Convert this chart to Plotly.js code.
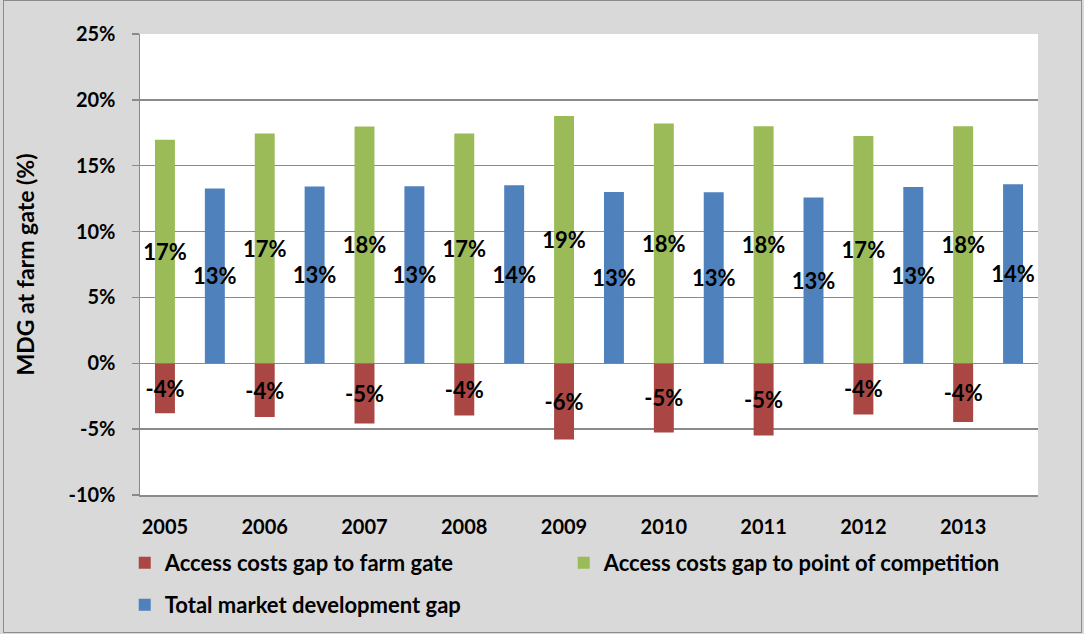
<!DOCTYPE html>
<html>
<head>
<meta charset="utf-8">
<script src="https://cdn.plot.ly/plotly-3.0.1.min.js"></script>
<style>
  html, body { margin: 0; padding: 0; background: #ffffff; }
  #wrap { position: relative; width: 1084px; height: 634px; }
  #chart { width: 1084px; height: 634px; }
  #frame { position: absolute; left: 3px; top: 0px; width: 1077px; height: 631px;
           border: 1.5px solid #8c8c8c; pointer-events: none; }
</style>
</head>
<body>
<div id="wrap">
  <div id="chart"></div>
  <div id="frame"></div>
</div>
<script>
const years = ["2005", "2006", "2007", "2008", "2009", "2010", "2011", "2012", "2013"];
const farmGateGap = [-3.79, -4.07, -4.58, -3.97, -5.79, -5.26, -5.49, -3.89, -4.45];
const competitionGap = [16.98, 17.44, 17.97, 17.44, 18.77, 18.2, 18.0, 17.26, 18.0];
const totalGap = [13.27, 13.42, 13.44, 13.52, 13.01, 12.99, 12.58, 13.39, 13.59];
const seriesNames = ["Access costs gap to farm gate", "Access costs gap to point of competition", "Total market development gap"];
const yTickVals = [-10, -5, 0, 5, 10, 15, 20, 25];
const yTickText = ["-10%", "-5%", "0%", "5%", "10%", "15%", "20%", "25%"];

const FONT = "Lato, 'Liberation Sans', sans-serif";
const FS = 22;
const TFS = 20;
const labelFont = { family: FONT, size: FS, color: "#000000", weight: 700 };

function barTrace(name, vals, color, offset, legendId) {
  return {
    type: "bar",
    name: name,
    x: years,
    y: vals,
    width: 0.2,
    offset: offset,
    marker: { color: color, line: { width: 0 } },
    text: vals.map(v => Math.round(v) + "%"),
    textposition: "inside",
    insidetextanchor: "middle",
    constraintext: "none",
    textangle: 0,
    insidetextfont: labelFont,
    textfont: labelFont,
    cliponaxis: false,
    legend: legendId,
    hoverinfo: "x+y+name"
  };
}

const data = [
  barTrace(seriesNames[0], farmGateGap, "#AA4643", -0.35, "legend"),
  barTrace(seriesNames[1], competitionGap, "#9BBB59", -0.35, "legend"),
  barTrace(seriesNames[2], totalGap, "#4F81BD", 0.15, "legend2")
];

const layout = {
  width: 1084,
  height: 634,
  margin: { l: 140, r: 46, t: 34, b: 139, autoexpand: false },
  paper_bgcolor: "#d9d9d9",
  plot_bgcolor: "#ffffff",
  font: { family: FONT, size: FS, color: "#000000", weight: 700 },
  barmode: "overlay",
  showlegend: true,
  xaxis: {
    type: "category",
    showgrid: false,
    showline: true,
    linecolor: "#8a8a8a",
    linewidth: 1.5,
    ticks: "",
    ticklabelshift: -25,
    ticklabelstandoff: 13,
    tickfont: { family: FONT, size: TFS, color: "#000000", weight: 700 },
    fixedrange: true
  },
  yaxis: {
    range: [-10, 25],
    automargin: true,
    tickmode: "array",
    tickvals: yTickVals,
    ticktext: yTickText,
    showgrid: true,
    gridcolor: "#8a8a8a",
    gridwidth: 1.5,
    zeroline: false,
    showline: true,
    linecolor: "#8a8a8a",
    linewidth: 1.5,
    ticks: "outside",
    ticklen: 7,
    tickwidth: 1.5,
    tickcolor: "#8a8a8a",
    ticklabelstandoff: 12,
    tickfont: { family: FONT, size: TFS, color: "#000000", weight: 700 },
    title: { text: "MDG at farm gate (%)", standoff: 27,
             font: { family: FONT, size: 23, color: "#000000", weight: 700 } },
    fixedrange: true
  },
  legend: {
    orientation: "h",
    x: -0.017, xanchor: "left",
    y: -0.102, yanchor: "top",
    entrywidth: 394,
    entrywidthmode: "pixels",
    bgcolor: "rgba(0,0,0,0)",
    font: { family: FONT, size: FS, color: "#000000", weight: 700 },
    traceorder: "normal"
  },
  legend2: {
    orientation: "h",
    x: -0.017, xanchor: "left",
    y: -0.193, yanchor: "top",
    bgcolor: "rgba(0,0,0,0)",
    font: { family: FONT, size: FS, color: "#000000", weight: 700 }
  }
};

Plotly.newPlot("chart", data, layout, { displayModeBar: false, staticPlot: true });
</script>
</body>
</html>
